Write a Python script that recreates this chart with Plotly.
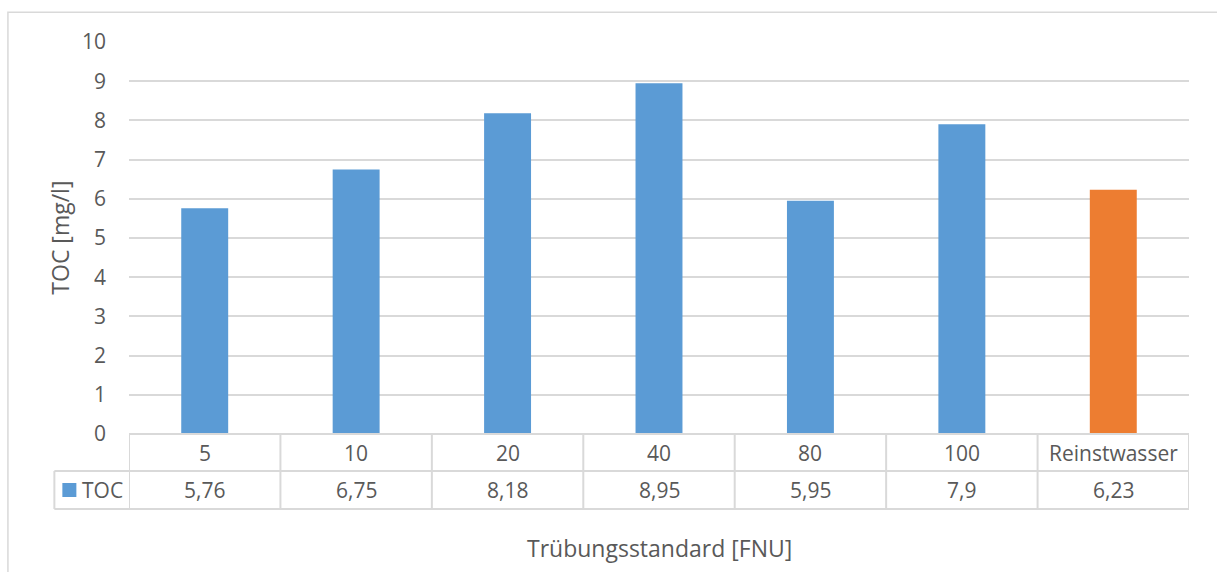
import plotly.graph_objects as go

# Data
categories = ["5", "10", "20", "40", "80", "100", "Reinstwasser"]
toc_values = [5.76, 6.75, 8.18, 8.95, 5.95, 7.9, 6.23]
value_labels = ["5,76", "6,75", "8,18", "8,95", "5,95", "7,9", "6,23"]
series_name = "TOC"
y_ticks = list(range(0, 11))

BLUE = "#5B9BD5"
ORANGE = "#ED7D31"
GRID = "#D9D9D9"
TEXT = "#595959"
FONT = "'Open Sans', Lato, sans-serif"
TICK_SIZE = 21
TITLE_SIZE = 23

W, H = 1217, 572
L, R, T, B = 129.3, 1188.7, 42, 434  # plot area in pixels


def py(p):
    return (B - p) / (B - T)


def px(p):
    return (p - L) / (R - L)


colors = [ORANGE if c == "Reinstwasser" else BLUE for c in categories]
xs = list(range(len(categories)))

fig = go.Figure(
    go.Bar(x=xs, y=toc_values, marker=dict(color=colors, line=dict(width=0)),
           width=0.31, showlegend=False, hoverinfo="skip")
)

n = len(categories)
shapes = []
line = dict(color=GRID, width=2)
# outer chart frame
shapes.append(dict(type="rect", xref="paper", yref="paper",
                   x0=px(8.3), x1=px(1240), y0=py(12.3), y1=py(600),
                   line=dict(color=GRID, width=1.5)))
# data table: horizontal lines
shapes.append(dict(type="line", xref="x", yref="paper", x0=-0.5, x1=n - 0.5,
                   y0=py(434), y1=py(434), line=line))
shapes.append(dict(type="line", xref="paper", yref="paper", x0=px(54.7), x1=1,
                   y0=py(471), y1=py(471), line=line))
shapes.append(dict(type="line", xref="paper", yref="paper", x0=px(54.7), x1=1,
                   y0=py(509), y1=py(509), line=line))
# vertical lines at category boundaries
for i in range(n + 1):
    shapes.append(dict(type="line", xref="x", yref="paper", x0=i - 0.5, x1=i - 0.5,
                       y0=py(434), y1=py(509), line=line))
# legend cell left edge
shapes.append(dict(type="line", xref="paper", yref="paper", x0=px(54.7), x1=px(54.7),
                   y0=py(471), y1=py(509), line=line))
# legend key
shapes.append(dict(type="rect", xref="paper", yref="paper",
                   x0=px(62.7), x1=px(76.7), y0=py(483), y1=py(497),
                   fillcolor=BLUE, line=dict(width=0)))

tick_font = dict(size=TICK_SIZE, color=TEXT, family=FONT)
annotations = []
for i, (c, v) in enumerate(zip(categories, value_labels)):
    annotations.append(dict(x=i, y=py(452.5), xref="x", yref="paper", text=c,
                            xanchor="center", yanchor="middle",
                            showarrow=False, font=tick_font))
    annotations.append(dict(x=i, y=py(490), xref="x", yref="paper", text=v,
                            xanchor="center", yanchor="middle",
                            showarrow=False, font=tick_font))
annotations.append(dict(x=px(80), y=py(490), xref="paper", yref="paper", text=series_name,
                        xanchor="left", yanchor="middle", showarrow=False,
                        font=tick_font))
annotations.append(dict(x=px(60), y=py(238), xref="paper", yref="paper", text="TOC [mg/l]",
                        textangle=-90, xanchor="center", yanchor="middle", showarrow=False,
                        font=dict(size=TITLE_SIZE, color=TEXT, family=FONT)))
annotations.append(dict(x=px(659), y=py(548), xref="paper", yref="paper",
                        text="Trübungsstandard [FNU]", xanchor="center", yanchor="middle",
                        showarrow=False,
                        font=dict(size=TITLE_SIZE, color=TEXT, family=FONT)))

fig.update_layout(
    width=W, height=H,
    margin=dict(l=L, r=W - R, t=T, b=H - B, pad=0),
    paper_bgcolor="white", plot_bgcolor="white",
    xaxis=dict(range=[-0.5, n - 0.5], showticklabels=False, showgrid=False,
               zeroline=False, showline=False, fixedrange=True),
    yaxis=dict(range=[0, 10], tickvals=y_ticks, showgrid=True, gridcolor=GRID,
               gridwidth=1.5, zeroline=False, showline=False,
               ticklabelstandoff=22, tickfont=tick_font),
    shapes=shapes, annotations=annotations,
    font=dict(family=FONT, color=TEXT),
)

fig.write_html("out.html")
